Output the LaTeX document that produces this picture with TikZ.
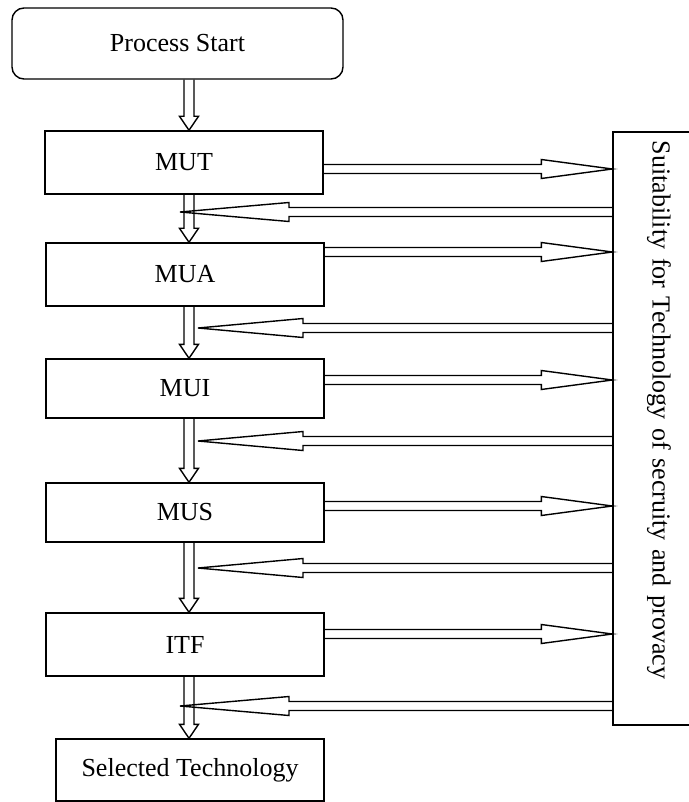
\documentclass[tikz,border=0pt]{standalone}
\usepackage{fontspec}
\setmainfont{Liberation Serif}
\usetikzlibrary{calc,positioning}
\tikzset{
  stage/.style={draw,line width=1.4pt,minimum width=278pt,minimum height=#1,
    inner sep=0pt,font=\fontsize{26}{30}\selectfont},
  stage/.default=63pt,
  start box/.style={stage=71pt,minimum width=331pt,rounded corners=12pt},
  side box/.style={draw,line width=1.4pt,rotate=-90,minimum width=593pt,minimum height=92pt,
    text width=575pt,inner xsep=9pt,align=left,font=\fontsize{26}{30}\selectfont},
  blk/.style={draw,line width=1.4pt,line join=miter},
}
% hollow block arrows
\newcommand{\dblk}[2]{%
  \draw[blk] let \p1=(lane |- #1.south), \p2=(lane |- #2.north) in
    (\x1-5pt,\y1) -- (\x1-5pt,\y2+14pt) -- (\x1-9.5pt,\y2+14pt) -- (\x2,\y2)
    -- (\x1+9.5pt,\y2+14pt) -- (\x1+5pt,\y2+14pt) -- (\x1+5pt,\y1);}
\newcommand{\rblk}[3][71pt]{%
  \draw[blk] let \p1=(#2), \p2=(#3.south |- #2) in
    (\x1,\y1+4.5pt) -- (\x2-#1,\y1+4.5pt) -- (\x2-#1,\y1+9.5pt) -- (\x2,\y2)
    -- (\x2-#1,\y1-9.5pt) -- (\x2-#1,\y1-4.5pt) -- (\x1,\y1-4.5pt);}
\newcommand{\lblk}[3][105pt]{%
  \draw[blk] let \p1=(#3.south |- #2), \p2=(#2) in
    (\x1,\y1+4.5pt) -- (\x2+#1,\y1+4.5pt) -- (\x2+#1,\y1+9.5pt) -- (\x2,\y2)
    -- (\x2+#1,\y1-9.5pt) -- (\x2+#1,\y1-4.5pt) -- (\x1,\y1-4.5pt);}

\begin{document}
\begin{tikzpicture}[x=1pt,y=-1pt]
  \useasboundingbox (0,0) rectangle (688,802);
  \coordinate (lane) at (189,0);

  \node[start box] (start) at (177.5,43.5) {Process Start};
  \node[stage] (mut) at (184,162.5) {MUT};
  \node[stage] (mua) at (185,274.5) {MUA};
  \node[stage=59pt] (mui) at (185,388.5) {MUI};
  \node[stage=59pt] (mus) at (185,512.5) {MUS};
  \node[stage] (itf) at (185,644.5) {ITF};
  \node[stage=62pt,minimum width=268pt] (sel) at (190,770) {Selected Technology};
  \node[side box] (suit) at (659,428.5) {Suitability for Technology of secruity and provacy};

  \dblk{start}{mut}
  \dblk{mut}{mua}
  \dblk{mua}{mui}
  \dblk{mui}{mus}
  \dblk{mus}{itf}
  \dblk{itf}{sel}

  \foreach \s/\y in {mut/169,mua/252,mui/380,mus/506,itf/634}{
    \coordinate (o-\s) at (\s.east |- 0,\y);
    \rblk{o-\s}{suit}
  }

  \foreach \x/\y [count=\i] in {180/212,198/328,198/441,198/568,180/706}{
    \coordinate (b\i) at (\x,\y);
  }
  \lblk[109pt]{b1}{suit}
  \lblk{b2}{suit}
  \lblk{b3}{suit}
  \lblk{b4}{suit}
  \lblk[109pt]{b5}{suit}
\end{tikzpicture}
\end{document}
